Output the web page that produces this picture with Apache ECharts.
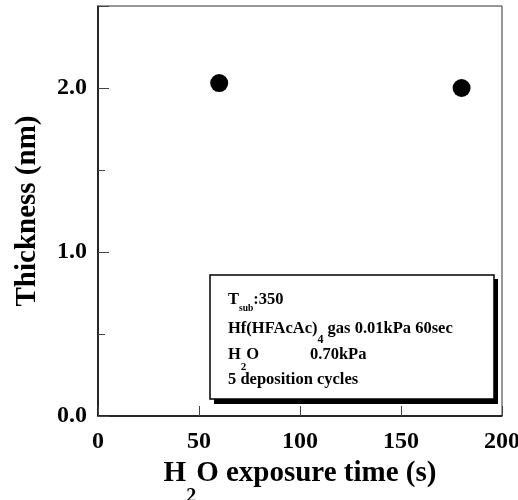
<!DOCTYPE html>
<html>
<head>
<meta charset="utf-8">
<script src="https://cdn.jsdelivr.net/npm/echarts@6/dist/echarts.min.js"></script>
<style>
  html, body { margin: 0; padding: 0; background: #fff; }
  #chart { width: 518px; height: 500px; }
</style>
</head>
<body>
<div id="chart"></div>
<script>
// Measured film thickness versus water exposure time
const exposureTimes = [60, 180];          // s
const thicknessValues = [2.03, 2.0];      // nm
const xTickValues = [0, 50, 100, 150, 200];
const yTickLabels = ['0.0', '1.0', '2.0'];

// Deposition conditions shown in the boxed note
const noteSubstrate = ['T', 'sub', ':350'];
const notePrecursor = ['Hf(HFAcAc)', '4', ' gas 0.01kPa 60sec'];
const noteWater = ['H', '2', 'O'];
const noteWaterPressure = '0.70kPa';
const noteCycles = '5 deposition cycles';

const SERIF = '"Liberation Serif", "Times New Roman", Times, serif';

const chart = echarts.init(document.getElementById('chart'));

function richStyles(mainSize, subSize, subDrop) {
  return {
    m: { fontFamily: SERIF, fontWeight: 'bold', fontSize: mainSize, color: '#000' },
    s: { fontFamily: SERIF, fontWeight: 'bold', fontSize: subSize, color: '#000',
         padding: [subDrop * 2, 0, 0, 0] }
  };
}

const points = exposureTimes.map((t, i) => [t, thicknessValues[i]]);

const noteX = 228;
const noteSize = 16.5;
const noteTexts = [
  { x: noteX, y: 299.5, text: `{m|${noteSubstrate[0]}}{s|${noteSubstrate[1]}}{m|${noteSubstrate[2]}}`, rich: richStyles(noteSize, 9.5, 9) },
  { x: noteX, y: 328.6, text: `{m|${notePrecursor[0]}}{s|${notePrecursor[1]}}{m|${notePrecursor[2]}}`, rich: richStyles(noteSize, 12, 11) },
  { x: noteX, y: 355, text: `{m|${noteWater[0]}}{s|${noteWater[1]}}{m|${noteWater[2]}}`, rich: richStyles(noteSize, 11, 12.5) },
  { x: 310, y: 355, text: `{m|${noteWaterPressure}}`, rich: richStyles(noteSize, 11, 0) },
  { x: noteX, y: 379.6, text: `{m|${noteCycles}}`, rich: richStyles(noteSize, 11, 0) }
];

const option = {
  animation: false,
  backgroundColor: '#fff',
  grid: {
    left: 98, right: 16, top: 6, bottom: 84,
    outerBoundsMode: 'none',
    containLabel: false,
    show: true, borderColor: '#333', borderWidth: 1, backgroundColor: 'transparent'
  },
  xAxis: {
    type: 'value',
    min: xTickValues[0],
    max: xTickValues[xTickValues.length - 1],
    interval: xTickValues[1] - xTickValues[0],
    axisLine: { lineStyle: { color: '#000', width: 1.5 } },
    axisTick: { inside: true, length: 10, lineStyle: { color: '#444', width: 1 } },
    splitLine: { show: false },
    axisLabel: {
      margin: 14, fontFamily: SERIF, fontWeight: 'bold', fontSize: 24, color: '#000',
      formatter: v => xTickValues.includes(v) ? String(v) : ''
    },
    name: '{m|H}{s|2}{m|O exposure time (s)}',
    nameLocation: 'middle',
    nameGap: 15,
    nameTextStyle: { rich: richStyles(29, 20, 23) }
  },
  yAxis: [
    {
      // half-unit minor ticks
      type: 'value', min: 0, max: 2.5, interval: 0.5,
      axisLine: { show: true, lineStyle: { color: '#000', width: 1.5 } },
      axisTick: { inside: true, length: 7, lineStyle: { color: '#444', width: 1 } },
      axisLabel: { show: false },
      splitLine: { show: false },
      name: 'Thickness (nm)',
      nameLocation: 'middle',
      nameGap: 56,
      nameTextStyle: { fontFamily: SERIF, fontWeight: 'bold', fontSize: 29, color: '#000' }
    },
    {
      // labelled unit ticks
      type: 'value', min: 0, max: 2.5, interval: 1, position: 'left',
      axisLine: { show: false },
      axisTick: { inside: true, length: 11, lineStyle: { color: '#444', width: 1 } },
      splitLine: { show: false },
      axisLabel: {
        margin: 11, fontFamily: SERIF, fontWeight: 'bold', fontSize: 24, color: '#000',
        formatter: v => (Number.isInteger(v) && yTickLabels[v] !== undefined) ? yTickLabels[v] : ''
      }
    }
  ],
  series: [{
    type: 'scatter',
    xAxisIndex: 0,
    yAxisIndex: 0,
    data: points,
    symbol: 'circle',
    symbolSize: 18,
    itemStyle: { color: '#000', opacity: 1 },
    z: 5
  }],
  graphic: [
    { type: 'rect', z: 10, shape: { x: 214, y: 279, width: 284, height: 125 }, style: { fill: '#000' } },
    { type: 'rect', z: 11, shape: { x: 210, y: 275, width: 284, height: 124 },
      style: { fill: '#fff', stroke: '#000', lineWidth: 1.5 } }
  ].concat(noteTexts.map(t => ({
    type: 'text', z: 12, x: t.x, y: t.y,
    style: { text: t.text, rich: t.rich, verticalAlign: 'middle', align: 'left', fill: '#000' }
  })))
};

chart.setOption(option);
</script>
</body>
</html>
